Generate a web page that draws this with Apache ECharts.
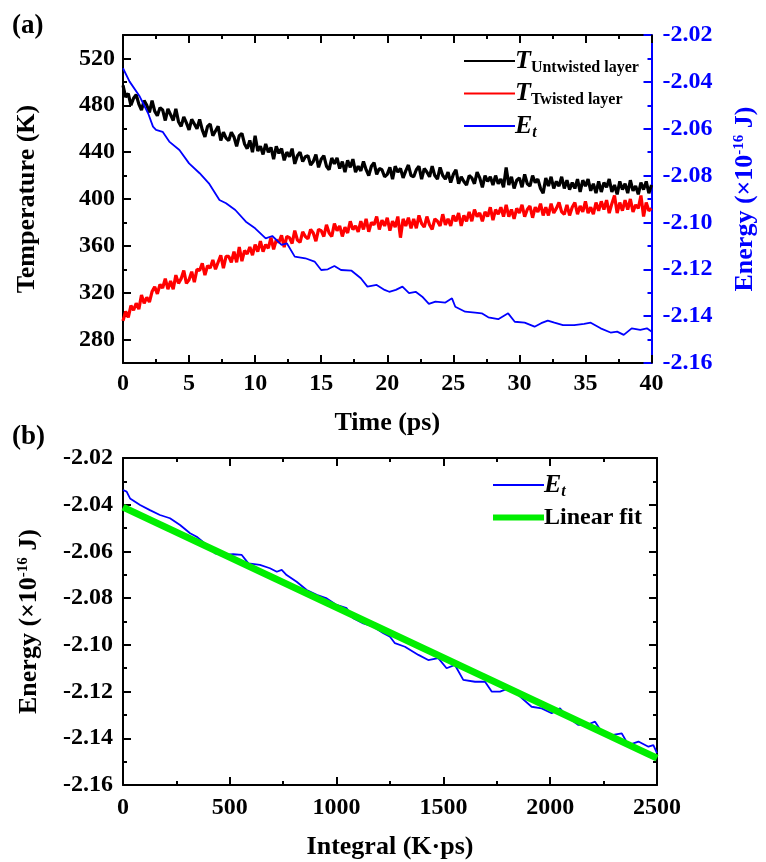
<!DOCTYPE html>
<html>
<head>
<meta charset="utf-8">
<script src="https://cdn.jsdelivr.net/npm/echarts@6/dist/echarts.min.js"></script>
<style>
  html, body { margin: 0; padding: 0; background: #fff; }
  #main { width: 766px; height: 862px; }
</style>
</head>
<body>
<div id="main"></div>
<script>
// sampling step of the temperature traces (ps)
var timeStep = 0.2;

// T of the untwisted layer (K), one value every timeStep
var untwistedTemp = [
  497, 487, 490, 480, 486, 489, 481, 476, 484, 480, 474, 484, 475, 471, 478,
  476, 467, 477, 472, 467, 477, 466, 462, 470, 465, 459, 468, 464, 460, 468,
  459, 453, 462, 464, 454, 458, 462, 450, 457, 452, 450, 457, 453, 445, 454,
  456, 447, 443, 450, 440, 454, 441, 445, 438, 447, 440, 444, 434, 445, 439,
  443, 433, 440, 436, 443, 430, 437, 440, 432, 436, 437, 429, 432, 438, 427,
  434, 437, 428, 425, 435, 430, 435, 426, 432, 423, 433, 427, 434, 423, 428,
  424, 432, 425, 420, 428, 431, 421, 426, 425, 419, 421, 427, 417, 428, 423,
  426, 418, 424, 429, 420, 419, 425, 428, 417, 426, 423, 419, 428, 420, 417,
  427, 420, 417, 423, 414, 421, 425, 413, 419, 415, 412, 420, 418, 413, 423,
  418, 410, 420, 415, 419, 412, 420, 413, 417, 410, 427, 412, 419, 409, 416,
  418, 410, 421, 413, 411, 420, 414, 417, 409, 405, 418, 411, 419, 409, 415,
  411, 419, 409, 416, 408, 414, 409, 417, 406, 416, 411, 417, 407, 413, 405,
  415, 406, 414, 410, 417, 406, 412, 404, 415, 408, 413, 405, 416, 407, 411,
  404, 414, 408, 415, 405, 412
];

// T of the twisted layer (K)
var twistedTemp = [
  296, 304, 299, 309, 305, 311, 306, 318, 311, 316, 312, 321, 325, 319, 327,
  324, 332, 323, 330, 323, 335, 328, 332, 339, 328, 331, 338, 329, 340, 339,
  345, 335, 343, 341, 348, 340, 346, 352, 341, 351, 351, 346, 355, 346, 359,
  347, 356, 353, 359, 352, 361, 355, 364, 355, 361, 358, 367, 357, 365, 363,
  369, 359, 368, 367, 362, 373, 365, 363, 372, 368, 366, 374, 371, 364, 374,
  373, 368, 378, 371, 368, 379, 373, 377, 368, 376, 371, 381, 374, 377, 372,
  381, 374, 383, 372, 380, 378, 385, 374, 382, 377, 384, 373, 381, 376, 385,
  367, 383, 377, 384, 375, 383, 375, 386, 379, 376, 385, 378, 374, 383, 381,
  377, 387, 378, 383, 377, 386, 381, 388, 377, 386, 381, 389, 381, 391, 385,
  388, 381, 389, 385, 393, 382, 391, 387, 393, 385, 395, 385, 391, 383, 392,
  388, 395, 385, 391, 394, 384, 393, 389, 396, 386, 393, 386, 396, 388, 392,
  397, 389, 387, 395, 386, 393, 397, 387, 394, 389, 398, 388, 393, 387, 397,
  390, 398, 391, 399, 388, 396, 403, 388, 397, 390, 399, 391, 400, 389, 395,
  392, 403, 385, 397, 390, 392
];

// E_t in panel (a): time (ps) and energy (x1e-16 J)
var energyTime = [
  0, 0.5, 1.27, 1.9, 2.27, 2.5, 3.0, 3.5, 4.27, 5.0, 5.8, 6.5, 7.3, 7.8, 8.5, 9.3,
  10.0, 10.8, 11.3, 12.0, 12.4, 13.0, 13.8, 14.5, 15.0, 15.5, 16.0, 16.5, 17.3, 18.0,
  18.5, 19.2, 19.8, 20.15, 20.65, 21.15, 21.65, 22.15, 22.65, 23.15, 23.65, 24.4,
  24.9, 25.15, 25.9, 26.65, 27.15, 27.65, 28.4, 29.15, 29.65, 30.4, 31.15, 31.65,
  32.15, 32.65, 33.3, 34.15, 34.9, 35.4, 36.15, 36.9, 37.4, 37.9, 38.5, 39.15, 39.65, 40
];
var energyA = [
  -2.0342, -2.0399, -2.0463, -2.0534, -2.0591, -2.0605, -2.0613, -2.0655, -2.0691,
  -2.0748, -2.0790, -2.0833, -2.0904, -2.0918, -2.0947, -2.0997, -2.1025, -2.1068,
  -2.1058, -2.1096, -2.1089, -2.1146, -2.1153, -2.1167, -2.1203, -2.1200, -2.1186,
  -2.1203, -2.1206, -2.1238, -2.1274, -2.1267, -2.1288, -2.1296, -2.1288, -2.1274,
  -2.1302, -2.1296, -2.1317, -2.1348, -2.1338, -2.1342, -2.1324, -2.1360, -2.1381,
  -2.1385, -2.1388, -2.1405, -2.1413, -2.1388, -2.1424, -2.1428, -2.1445, -2.1430,
  -2.1419, -2.1428, -2.1438, -2.1438, -2.1433, -2.1428, -2.1452, -2.1470, -2.1466,
  -2.1480, -2.1452, -2.1459, -2.1452, -2.1466
];

// E_t in panel (b): integral (K·ps) and energy
var integralB = [
  0, 17, 33, 80, 126, 173, 220, 267, 314, 345, 392, 431, 470, 516, 556, 587, 641,
  688, 720, 743, 766, 813, 860, 907, 954, 1000, 1047, 1078, 1125, 1172, 1219, 1250,
  1273, 1320, 1383, 1429, 1476, 1515, 1554, 1593, 1648, 1695, 1726, 1765, 1804, 1851,
  1913, 1960, 2007, 2046, 2077, 2132, 2179, 2210, 2241, 2288, 2335, 2366, 2413, 2460,
  2483, 2500
];
var energyB = [
  -2.0337, -2.0344, -2.0373, -2.0401, -2.0423, -2.0444, -2.0458, -2.0487, -2.0522,
  -2.0537, -2.0572, -2.0608, -2.0615, -2.0612, -2.0615, -2.0651, -2.0658, -2.0672,
  -2.0687, -2.0679, -2.0701, -2.0730, -2.0765, -2.0786, -2.0801, -2.0829, -2.0843,
  -2.0886, -2.0908, -2.0922, -2.0950, -2.0965, -2.0993, -2.1008, -2.1043, -2.1065,
  -2.1057, -2.1100, -2.1086, -2.1150, -2.1158, -2.1158, -2.1200, -2.1200, -2.1186,
  -2.1215, -2.1265, -2.1272, -2.1293, -2.1272, -2.1307, -2.1343, -2.1340, -2.1329,
  -2.1372, -2.1386, -2.1379, -2.1429, -2.1414, -2.1436, -2.1429, -2.1464
];

// linear fit end points
var fitX = [0, 2500];
var fitY = [-2.0410, -2.1485];

var tempLabels = [280, 320, 360, 400, 440, 480, 520];

var font = '"Times New Roman", "Liberation Serif", serif';
var blue = '#0000ff';
var green = '#00ee00';

function pairs(xs, ys) {
  return ys.map(function (v, i) { return [xs[i], v]; });
}
function timed(ys) {
  return ys.map(function (v, i) { return [+(i * timeStep).toFixed(2), v]; });
}

var labelStyle = { fontFamily: font, fontWeight: 'bold', fontSize: 24, color: '#000' };
var nameStyle = {
  fontFamily: font, fontWeight: 'bold', fontSize: 26, color: '#000',
  rich: {
    a: { fontFamily: font, fontWeight: 'bold', fontSize: 26 },
    sup: { fontFamily: font, fontWeight: 'bold', fontSize: 15, padding: [0, 0, 12, 0] }
  }
};
var blackLine = { show: true, onZero: false, lineStyle: { color: '#000', width: 2 } };
var tickIn = { show: true, inside: true, length: 8, lineStyle: { width: 2, color: '#000' } };
var minorIn = { show: true, splitNumber: 2, length: 4, lineStyle: { width: 2, color: '#000' } };

function energyFmt(v) { return v.toFixed(2); }
function plainFmt(v) { return String(v); }

var legendRich = {
  t: { fontFamily: font, fontWeight: 'bold', fontStyle: 'italic', fontSize: 26 },
  s: { fontFamily: font, fontWeight: 'bold', fontSize: 16, padding: [13, 0, 0, 0] },
  si: { fontFamily: font, fontWeight: 'bold', fontStyle: 'italic', fontSize: 16, padding: [13, 0, 0, 0] },
  n: { fontFamily: font, fontWeight: 'bold', fontSize: 24 }
};

var chart = echarts.init(document.getElementById('main'));

chart.setOption({
  animation: false,
  backgroundColor: '#fff',
  grid: [
    { left: 123, top: 35, width: 533, height: 328 },
    { left: 123, top: 458, width: 534, height: 327 }
  ],
  xAxis: [
    {
      gridIndex: 0, type: 'value', min: 0, max: 40, interval: 5, position: 'bottom',
      name: 'Time (ps)', nameLocation: 'middle', nameGap: 47, nameTextStyle: nameStyle,
      axisLine: blackLine, axisTick: tickIn, minorTick: minorIn,
      axisLabel: Object.assign({ margin: 9, formatter: plainFmt }, labelStyle), splitLine: { show: false }
    },
    {
      gridIndex: 0, type: 'value', min: 0, max: 40, interval: 5, position: 'top',
      axisLine: blackLine, axisTick: tickIn, minorTick: minorIn,
      axisLabel: { show: false }, splitLine: { show: false }
    },
    {
      gridIndex: 1, type: 'value', min: 0, max: 2500, interval: 500, position: 'bottom',
      name: 'Integral (K·ps)', nameLocation: 'middle', nameGap: 49, nameTextStyle: nameStyle,
      axisLine: blackLine, axisTick: tickIn, minorTick: minorIn,
      axisLabel: Object.assign({ margin: 11, formatter: plainFmt }, labelStyle), splitLine: { show: false }
    },
    {
      gridIndex: 1, type: 'value', min: 0, max: 2500, interval: 500, position: 'top',
      axisLine: blackLine, axisTick: tickIn, minorTick: minorIn,
      axisLabel: { show: false }, splitLine: { show: false }
    }
  ],
  yAxis: [
    {
      gridIndex: 0, type: 'value', min: 260, max: 540, interval: 20, position: 'left',
      name: 'Temperature (K)', nameLocation: 'middle', nameGap: 83, nameTextStyle: nameStyle,
      axisLine: blackLine,
      axisTick: { show: true, inside: true, length: 4, lineStyle: { width: 2, color: '#000' } },
      axisLabel: Object.assign({ margin: 8, customValues: tempLabels }, labelStyle),
      splitLine: { show: false }
    },
    {
      gridIndex: 0, type: 'value', min: -2.16, max: -2.02, interval: 0.02, position: 'right',
      name: '{a|Energy (×10}{sup|-16}{a| J)}', nameLocation: 'middle', nameGap: 80, nameRotate: 90,
      nameTextStyle: Object.assign({}, nameStyle, { color: blue }),
      axisLine: { show: true, onZero: false, lineStyle: { color: blue, width: 2 } },
      axisTick: { show: true, inside: true, length: 8, lineStyle: { width: 2, color: blue } },
      minorTick: { show: true, splitNumber: 2, length: 4, lineStyle: { width: 2, color: blue } },
      axisLabel: Object.assign({}, labelStyle, { margin: 11, color: blue, formatter: energyFmt }),
      splitLine: { show: false }
    },
    {
      // long ticks at the labelled temperatures
      gridIndex: 0, type: 'value', min: 260, max: 540, position: 'left',
      axisLine: { show: false, onZero: false },
      axisTick: { show: true, inside: true, length: 8, customValues: tempLabels, lineStyle: { width: 2, color: '#000' } },
      axisLabel: { show: false }, splitLine: { show: false }
    },
    {
      gridIndex: 1, type: 'value', min: -2.16, max: -2.02, interval: 0.02, position: 'left',
      name: '{a|Energy (×10}{sup|-16}{a| J)}', nameLocation: 'middle', nameGap: 80,
      nameTextStyle: nameStyle,
      axisLine: blackLine, axisTick: tickIn, minorTick: minorIn,
      axisLabel: Object.assign({ margin: 10, formatter: energyFmt }, labelStyle),
      splitLine: { show: false }
    },
    {
      gridIndex: 1, type: 'value', min: -2.16, max: -2.02, interval: 0.02, position: 'right',
      axisLine: blackLine, axisTick: tickIn, minorTick: minorIn,
      axisLabel: { show: false }, splitLine: { show: false }
    }
  ],
  legend: [
    {
      left: 458, top: 43, orient: 'vertical', itemWidth: 51, itemHeight: 14, itemGap: 5,
      itemStyle: { opacity: 0 },
      data: [
        { name: 'Tu', lineStyle: { width: 2 } },
        { name: 'Tt', lineStyle: { width: 2 } },
        { name: 'Ea', lineStyle: { width: 2 } }
      ],
      formatter: function (n) {
        if (n === 'Tu') return '{t|T}{s|Untwisted layer}';
        if (n === 'Tt') return '{t|T}{s|Twisted layer}';
        return '{t|E}{si|t}';
      },
      textStyle: { color: '#000', padding: [0, 0, 0, -5], rich: legendRich }
    },
    {
      left: 485, top: 467, orient: 'vertical', itemWidth: 51, itemHeight: 14, itemGap: 6,
      itemStyle: { opacity: 0 },
      data: [
        { name: 'Eb', lineStyle: { width: 2 } },
        { name: 'Fit', lineStyle: { width: 6 } }
      ],
      formatter: function (n) {
        if (n === 'Eb') return '{t|E}{si|t}';
        return '{n|Linear fit}';
      },
      textStyle: { color: '#000', padding: [0, 0, 0, -5], rich: legendRich }
    }
  ],
  graphic: [
    { type: 'text', left: 12, top: 13, style: { text: '(a)', font: 'bold 27px ' + font, fill: '#000' } },
    { type: 'text', left: 12, top: 424, style: { text: '(b)', font: 'bold 27px ' + font, fill: '#000' } }
  ],
  series: [
    {
      name: 'Tu', type: 'line', xAxisIndex: 0, yAxisIndex: 0, data: timed(untwistedTemp),
      showSymbol: false, symbol: 'none', lineStyle: { color: '#000', width: 3.2 }, itemStyle: { color: '#000' }
    },
    {
      name: 'Tt', type: 'line', xAxisIndex: 0, yAxisIndex: 0, data: timed(twistedTemp),
      showSymbol: false, symbol: 'none', lineStyle: { color: '#ff0000', width: 3.2 }, itemStyle: { color: '#ff0000' }
    },
    {
      name: 'Ea', type: 'line', xAxisIndex: 0, yAxisIndex: 1, data: pairs(energyTime, energyA),
      showSymbol: false, symbol: 'none', lineStyle: { color: blue, width: 1.8 }, itemStyle: { color: blue }
    },
    {
      name: 'Eb', type: 'line', xAxisIndex: 2, yAxisIndex: 3, data: pairs(integralB, energyB),
      showSymbol: false, symbol: 'none', lineStyle: { color: blue, width: 1.8 }, itemStyle: { color: blue }
    },
    {
      name: 'Fit', type: 'line', xAxisIndex: 2, yAxisIndex: 3, data: pairs(fitX, fitY),
      showSymbol: false, symbol: 'none', lineStyle: { color: green, width: 7 }, itemStyle: { color: green }
    }
  ]
});
</script>
</body>
</html>
